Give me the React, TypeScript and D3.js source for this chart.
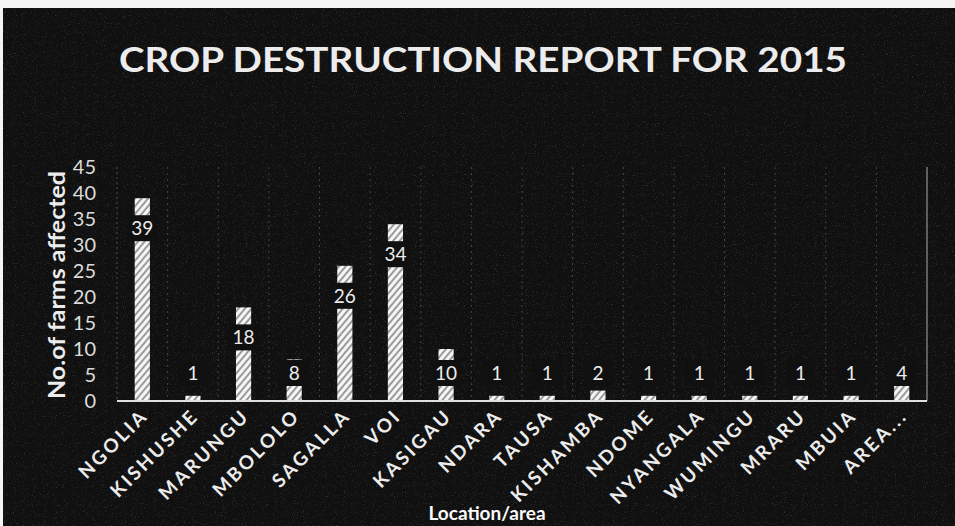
import React from "react";
import * as d3 from "d3";

const categories = [
  "NGOLIA", "KISHUSHE", "MARUNGU", "MBOLOLO", "SAGALLA", "VOI", "KASIGAU", "NDARA",
  "TAUSA", "KISHAMBA", "NDOME", "NYANGALA", "WUMINGU", "MRARU", "MBUIA", "AREA...",
];
const farmsAffected = [39, 1, 18, 8, 26, 34, 10, 1, 1, 2, 1, 1, 1, 1, 1, 4];
const yTickValues = [0, 5, 10, 15, 20, 25, 30, 35, 40, 45];

const title = "CROP DESTRUCTION REPORT FOR 2015";
const yTitle = "No.of farms affected";
const xTitle = "Location/area";

const W = 955;
const H = 526;
const FONT = "Lato, 'Open Sans', sans-serif";
const INK = "#ececec";

const App = () => {
  const x = d3
    .scaleBand<string>()
    .domain(categories)
    .range([117, 927])
    .paddingInner(0.7)
    .paddingOuter(0.35);
  const y = d3.scaleLinear().domain([0, 45]).range([401, 167]);
  const step = x.step();
  const bw = x.bandwidth();

  return (
    <svg
      width={W}
      height={H}
      style={{position: "absolute", left: 0, top: 0, display: "block"}}
    >
      <defs>
        <pattern id="hatch" patternUnits="userSpaceOnUse" width={5} height={5}
                 patternTransform="rotate(40)">
          <rect width={5} height={5} fill="#f6f6f6"/>
          <line x1={1} y1={0} x2={1} y2={5} stroke="#6a6a6a" strokeWidth={1.3}/>
        </pattern>
        <filter id="grain" x="0" y="0" width="100%" height="100%">
          <feTurbulence type="fractalNoise" baseFrequency="0.9" numOctaves={2} seed={3}/>
          <feColorMatrix type="matrix"
                         values="0 0 0 0 1  0 0 0 0 1  0 0 0 0 1  0 0 0 1.6 -0.95"/>
        </filter>
      </defs>

      <rect width={W} height={H} fill="#f4f4f4"/>
      <rect x={3} y={8} width={W - 3} height={H - 8} fill="#101010"/>
      <rect x={3} y={8} width={W - 3} height={H - 8} filter="url(#grain)" opacity={0.35}/>

      <text x={483} y={72} textAnchor="middle" fill={INK} fontFamily={FONT}
            fontWeight="bold" fontSize={34} textLength={728} lengthAdjust="spacingAndGlyphs">
        {title}
      </text>

      {/* category separators */}
      {categories.slice(1).map(c => (
        <line key={c} x1={(x(c) ?? 0) - (step - bw) / 2} x2={(x(c) ?? 0) - (step - bw) / 2}
              y1={167} y2={401} stroke="#666" strokeWidth={1} strokeDasharray="2 4" opacity={0.6}/>
      ))}
      <line x1={117} x2={117} y1={167} y2={401} stroke="#777" strokeDasharray="2 3" opacity={0.6}/>
      <line x1={927} x2={927} y1={167} y2={401} stroke="#aaa" strokeWidth={1}/>

      {/* bars */}
      {categories.map((c, i) => (
        <rect key={c} x={x(c)} y={y(farmsAffected[i])} width={bw}
              height={y(0) - y(farmsAffected[i])} fill="url(#hatch)"/>
      ))}

      <line x1={117} x2={927} y1={401} y2={401} stroke="#e0e0e0" strokeWidth={2}/>

      {/* data labels */}
      {categories.map((c, i) => {
        const cx = (x(c) ?? 0) + bw / 2;
        const cy = Math.min(y(farmsAffected[i]) + 30, y(0) - 28);
        return (
          <g key={c}>
            <rect x={cx - 15} y={cy - 13} width={30} height={26} fill="#101010"/>
            <text x={cx} y={cy + 7} textAnchor="middle" fill={INK} fontFamily={FONT}
                  fontSize={19}>
              {farmsAffected[i]}
            </text>
          </g>
        );
      })}

      {/* y axis */}
      {yTickValues.map(v => (
        <text key={v} x={96} y={y(v) + 7} textAnchor="end" fill="#dcdcdc" fontFamily={FONT}
              fontSize={20}>
          {v}
        </text>
      ))}
      <text transform={`translate(65 ${y(22.5) + 1}) rotate(-90)`} textAnchor="middle" fill={INK}
            fontFamily={FONT} fontWeight="bold" fontSize={22} textLength={228}
            lengthAdjust="spacingAndGlyphs">
        {yTitle}
      </text>

      {/* x axis labels */}
      {categories.map(c => (
        <text key={c}
              transform={`translate(${(x(c) ?? 0) + bw / 2 + 7} ${417}) rotate(-45)`}
              textAnchor="end" fill={INK} fontFamily={FONT} fontSize={19} fontWeight="bold"
              letterSpacing={2.7}>
          {c}
        </text>
      ))}

      <text x={487} y={520} textAnchor="middle" fill="#fafafa" fontFamily={FONT}
            fontWeight="bold" fontSize={19}>
        {xTitle}
      </text>
    </svg>
  );
};

export default App;
